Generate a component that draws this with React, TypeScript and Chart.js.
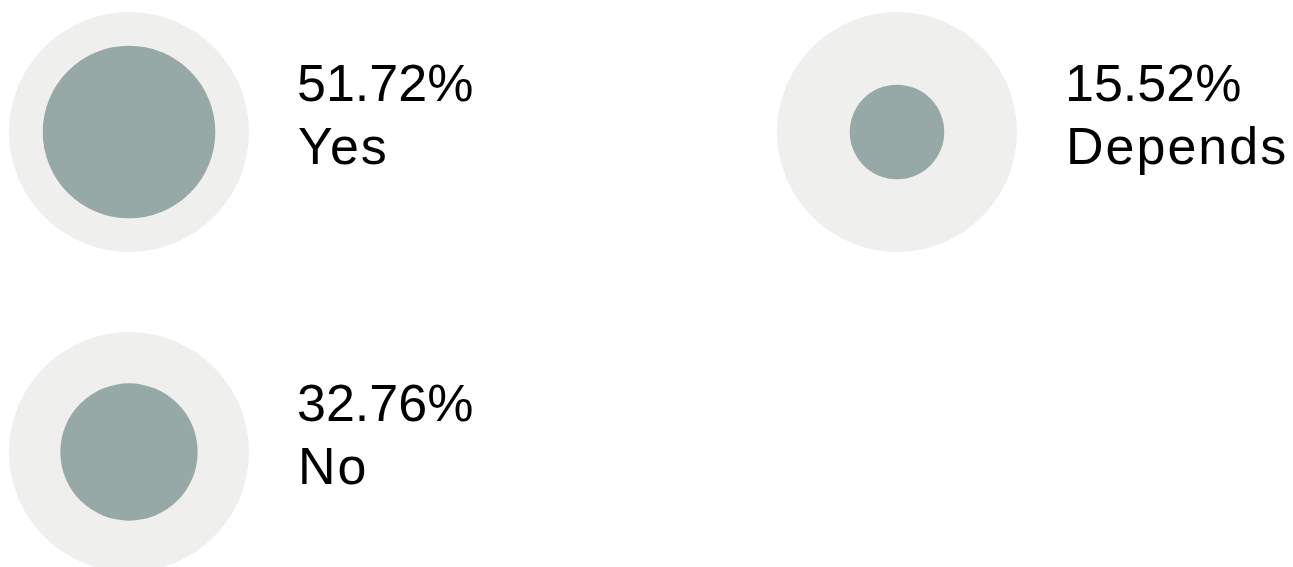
import React, { useEffect, useRef } from "react";
import { Chart, registerables } from "chart.js";

Chart.register(...registerables);

const categories = ["Yes", "Depends", "No"];
const values = [51.72, 15.52, 32.76];
const valueLabels = ["51.72%", "15.52%", "32.76%"];

const OUTER_COLOR = "#efefed";
const INNER_COLOR = "#97a9a6";
const MAX_R = 120;
const COLS = 2;

const gridX = categories.map((_, i) => i % COLS);
const gridY = categories.map((_, i) => Math.floor(i / COLS));

const labelPlugin = {
  id: "bubbleLabels",
  afterDatasetsDraw(chart: any) {
    const ctx = chart.ctx;
    const meta = chart.getDatasetMeta(0);
    ctx.save();
    ctx.fillStyle = "#000000";
    ctx.font = '52px "Liberation Sans", Arial, sans-serif';
    ctx.textAlign = "left";
    ctx.textBaseline = "alphabetic";
    meta.data.forEach((el: any, i: number) => {
      const x = el.x + MAX_R + 48;
      (ctx as any).letterSpacing = "0px";
      ctx.fillText(valueLabels[i], x, el.y - 31);
      (ctx as any).letterSpacing = "2px";
      ctx.fillText(categories[i], x + 1, el.y + 32);
    });
    ctx.restore();
  },
};

export default function App() {
  const ref = useRef<HTMLCanvasElement>(null);
  useEffect(() => {
    if (!ref.current) return;
    const chart = new Chart(ref.current, {
      type: "bubble",
      data: {
        labels: categories,
        datasets: [
          {
            label: "outer",
            data: categories.map((_, i) => ({ x: gridX[i], y: gridY[i], r: MAX_R })),
            backgroundColor: OUTER_COLOR,
            borderWidth: 0,
            clip: false,
            order: 2,
          },
          {
            label: "share",
            data: values.map((v, i) => ({ x: gridX[i], y: gridY[i], r: MAX_R * Math.sqrt(v / 100) })),
            backgroundColor: INNER_COLOR,
            borderWidth: 0,
            clip: false,
            order: 1,
          },
        ],
      },
      options: {
        animation: false,
        responsive: true,
        maintainAspectRatio: false,
        events: [],
        layout: { padding: 0, autoPadding: false },
        plugins: { legend: { display: false }, tooltip: { enabled: false } },
        scales: {
          x: { type: "linear", display: false, min: -129 / 768, max: -129 / 768 + 1293 / 768 },
          y: { type: "linear", display: false, reverse: true, min: -132 / 320, max: -132 / 320 + 567 / 320 },
        },
      },
      plugins: [labelPlugin],
    });
    return () => chart.destroy();
  }, []);
  return (
    <div style={{ position: "absolute", left: 0, top: 0, width: 1293, height: 567, background: "#ffffff" }}>
      <canvas ref={ref} />
    </div>
  );
}
